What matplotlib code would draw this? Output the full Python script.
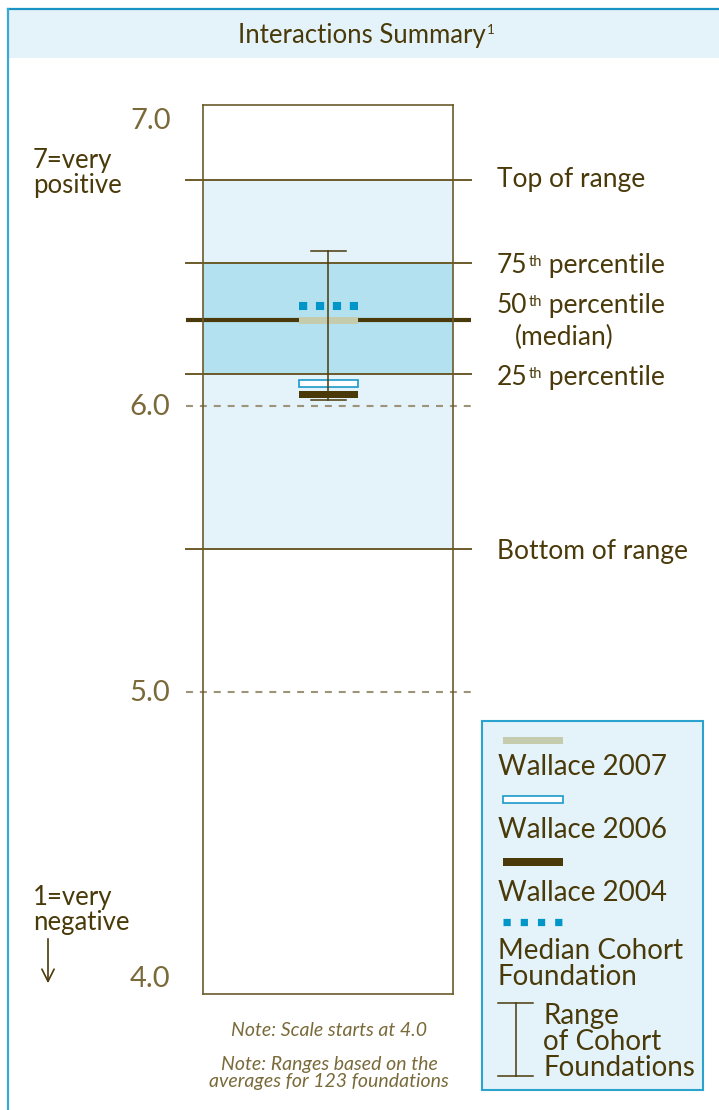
import matplotlib
matplotlib.use("Agg")
import matplotlib.pyplot as plt
from matplotlib.patches import Rectangle

plt.rcParams['font.family'] = ['Lato', 'DejaVu Sans']
plt.rcParams['lines.scale_dashes'] = False

# ---- data ----
title = "Interactions Summary"
y_ticks = [4.0, 5.0, 6.0, 7.0]
y_tick_labels = ["4.0", "5.0", "6.0", "7.0"]
dashed_levels = [5.0, 6.0]
range_top = 6.79
pct75 = 6.50
pct50 = 6.30
pct25 = 6.11
range_bottom = 5.50
wallace_2007 = 6.30
wallace_2006 = 6.08
wallace_2004 = 6.04
cohort_median = 6.35
cohort_min = 6.02
cohort_max = 6.54
legend_labels = ["Wallace 2007", "Wallace 2006", "Wallace 2004",
                 "Median Cohort\nFoundation", "Range\nof Cohort\nFoundations"]

TXT = "#4a3a0a"
TICK = "#7a6a3a"
LINE = "#6b5a2a"
LIGHT = "#e4f3f9"
DARK = "#b3e1ef"
BLUE = "#2aa3cf"
FS = 19

W, H = 719, 1110
fig = plt.figure(figsize=(W / 100, H / 100), dpi=100)

# background / decoration axes in pixel coords
bg = fig.add_axes([0, 0, 1, 1])
bg.set_xlim(0, W)
bg.set_ylim(H, 0)
bg.axis('off')
bg.add_patch(Rectangle((8, 9), W, 49, facecolor=LIGHT, edgecolor='none'))
bg.plot([8, W], [9, 9], color="#1a93c4", lw=1.6)
bg.plot([8, 8], [9, H], color="#3aaad4", lw=1.6)
tt = bg.text(362, 35, title, ha='center', va='center', fontsize=18.5, color=TXT)
bg.annotate("1", xy=(1, 0.92), xycoords=tt, xytext=(1, 0), textcoords='offset points',
            ha='left', va='top', fontsize=9.5, color=TXT)

# data axes: box from x 203..453, y 105..994
x0, x1, yt, yb = 203, 453, 105, 994
ax = fig.add_axes([x0 / W, 1 - yb / H, (x1 - x0) / W, (yb - yt) / H])
ax.set_zorder(2)
ax.patch.set_alpha(0)
ax.set_xlim(0, 1)
ax.set_ylim(3.944, 7.052)
for s in ax.spines.values():
    s.set_color(LINE)
    s.set_linewidth(1.2)
ax.set_xticks([])
ax.set_yticks([])

# shaded ranges
ax.axhspan(range_bottom, range_top, color=LIGHT, zorder=0, lw=0)
ax.axhspan(pct25, pct75, color=DARK, zorder=0.5, lw=0)

ext_l = (186 - x0) / (x1 - x0)
ext_r = (471 - x0) / (x1 - x0)

for lv in dashed_levels:
    ax.plot([ext_l, ext_r], [lv, lv], color="#9c9378", lw=1.5, dashes=(5, 5),
            clip_on=False, zorder=1)
for lv in [range_top, pct75, pct25, range_bottom]:
    ax.plot([ext_l, ext_r], [lv, lv], color=LINE, lw=1.4, clip_on=False, zorder=1)
ax.plot([ext_l, ext_r], [pct50, pct50], color=TXT, lw=3.0, clip_on=False, zorder=1.2,
        solid_capstyle='butt')

# whisker
cx = 0.5
ax.plot([cx, cx], [cohort_min, cohort_max], color=TXT, lw=1.1, zorder=3)
cap = 0.07
for v in [cohort_min, cohort_max]:
    ax.plot([cx - cap, cx + cap], [v, v], color=TXT, lw=1.1, zorder=3)

# markers
mw = 59 / (x1 - x0)
mh = 7 / 286.0
ax.add_patch(Rectangle((cx - mw / 2, wallace_2007 - mh / 2), mw, mh,
                       facecolor="#c5ccae", edgecolor='none', zorder=2))
ax.add_patch(Rectangle((cx - mw / 2, wallace_2006 - mh / 2), mw, mh,
                       facecolor="white", edgecolor="#1a9ac9", lw=1.2, zorder=2.5))
ax.add_patch(Rectangle((cx - mw / 2, wallace_2004 - mh / 2), mw, mh,
                       facecolor=TXT, edgecolor='none', zorder=2.5))
ax.plot([cx - mw / 2, cx + mw / 2], [cohort_median, cohort_median], color="#0096c8",
        lw=5.8, dashes=(5.9, 6.3), solid_capstyle='butt', dash_capstyle='butt', zorder=2)

# tick labels
for v, lab in zip(y_ticks, y_tick_labels):
    ax.text(-0.13, v - 0.005, lab, transform=ax.get_yaxis_transform(), ha='right',
            va='center', fontsize=21, color=TICK)

# level labels
lab_x = (497 - x0) / (x1 - x0)
def plain(xx, yy, s):
    ax.text(xx, yy, s, ha='left', va='center', fontsize=FS, color=TXT, clip_on=False)

def ordinal(xx, yy, num):
    t1 = ax.text(xx, yy, num, ha='left', va='center', fontsize=FS, color=TXT, clip_on=False)
    t2 = ax.annotate("th", xy=(1, 0.92), xycoords=t1, xytext=(0.5, 0),
                     textcoords='offset points', ha='left', va='top', fontsize=10.5,
                     color=TXT, annotation_clip=False)
    ax.annotate(" percentile", xy=(1, 0), xycoords=(t2, t1), ha='left', va='bottom',
                fontsize=FS, color=TXT, annotation_clip=False)

plain(lab_x, range_top, "Top of range")
ordinal(lab_x, pct75 - 0.01, "75")
ordinal(lab_x, pct50 + 0.05, "50")
plain(lab_x + 18 / (x1 - x0), pct50 - 0.06, "(median)")
ordinal(lab_x, pct25 - 0.01, "25")
plain(lab_x, range_bottom - 0.01, "Bottom of range")

# left annotations
bg.text(33, 173, "7=very\npositive", ha='left', va='center', fontsize=18.5, color=TXT,
        linespacing=1.0)
bg.text(33, 910, "1=very\nnegative", ha='left', va='center', fontsize=18.5, color=TXT,
        linespacing=1.0)
bg.annotate("", xy=(48, 986), xytext=(48, 936),
            arrowprops=dict(arrowstyle='->', color=TXT, lw=1.2, mutation_scale=22))

# notes
bg.text(329, 1031, "Note: Scale starts at 4.0", ha='center', va='center', fontsize=14,
        style='italic', color=TICK)
bg.text(329, 1073, "Note: Ranges based on the\naverages for 123 foundations", ha='center',
        va='center', fontsize=14, style='italic', color=TICK, linespacing=1.05)

# legend box
bg.add_patch(Rectangle((482, 721), 221, 369, facecolor=LIGHT, edgecolor=BLUE, lw=1.5))
sx0, sx1 = 503, 563
bg.add_patch(Rectangle((sx0, 737), sx1 - sx0, 7, facecolor="#c5ccae", edgecolor='none'))
bg.add_patch(Rectangle((sx0, 796), sx1 - sx0, 7, facecolor="white", edgecolor="#1a9ac9", lw=1.2))
bg.add_patch(Rectangle((sx0, 858), sx1 - sx0, 8, facecolor=TXT, edgecolor='none'))
bg.plot([sx0, sx1], [922, 922], color="#0096c8", lw=5.2, dashes=(5.2, 7.2),
        solid_capstyle='butt', dash_capstyle='butt')
bg.plot([498, 533], [1003, 1003], color=TXT, lw=1.1)
bg.plot([498, 533], [1076, 1076], color=TXT, lw=1.1)
bg.plot([515.5, 515.5], [1003, 1076], color=TXT, lw=1.1)

LFS = 20
bg.text(498, 767, legend_labels[0], ha='left', va='center', fontsize=LFS, color=TXT)
bg.text(498, 830, legend_labels[1], ha='left', va='center', fontsize=LFS, color=TXT)
bg.text(498, 893, legend_labels[2], ha='left', va='center', fontsize=LFS, color=TXT)
bg.text(498, 964, legend_labels[3], ha='left', va='center', fontsize=LFS, color=TXT,
        linespacing=0.98)
bg.text(543, 1042, legend_labels[4], ha='left', va='center', fontsize=LFS, color=TXT,
        linespacing=1.0)

fig.savefig("out.png", dpi=100)
